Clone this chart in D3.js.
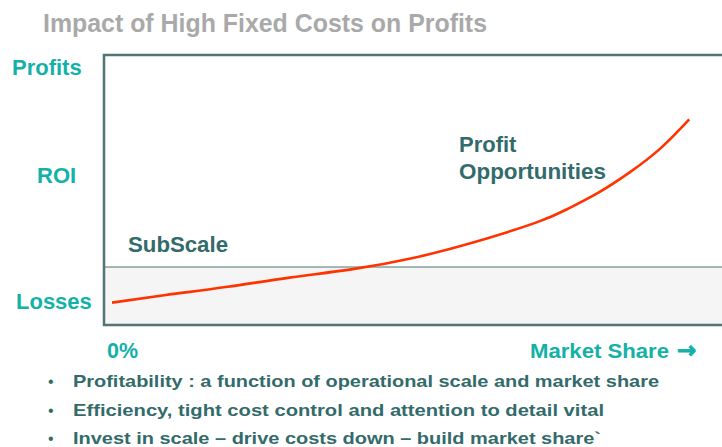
<!DOCTYPE html>
<html>
<head>
<meta charset="utf-8">
<script src="https://cdn.jsdelivr.net/npm/d3@7"></script>
<style>
  body { margin: 0; background: #fff; }
  svg { display: block; font-family: "Liberation Sans", Arial, sans-serif; }
</style>
</head>
<body>
<div id="chart"></div>
<script>
// data (market share %, profit index: 0 = breakeven)
var share = [1.3, 10, 20, 30, 40, 50, 60, 70, 75, 80, 85, 90, 94.7];
var profit = [-17.8, -14, -9.9, -5.3, -1.2, 4.5, 12.5, 22.3, 29, 37.2, 47.2, 59.2, 73.8];
var yLabels = ["Profits", "ROI", "Losses"];
var yLabelValues = [100, 46, -17];
var bullets = [
    "Profitability : a function of operational scale and market share",
    "Efficiency, tight cost control and attention to detail vital",
    "Invest in scale \u2013 drive costs down \u2013 build market share`"
];

var width = 722, height = 447;
var teal = "#13b1a8", dark = "#336b6b", frame = "#4f7575";

var x = d3.scaleLinear().domain([0, 100]).range([104, 722]);
var y = d3.scaleLinear().domain([-29, 106]).range([325, 55]);

var svg = d3.select("#chart").append("svg")
    .attr("width", width)
    .attr("height", height);

// title
svg.append("text")
    .attr("x", 43).attr("y", 32)
    .attr("fill", "#a9a9a9")
    .attr("font-weight", "bold")
    .attr("font-size", 25)
    .attr("textLength", 444).attr("lengthAdjust", "spacingAndGlyphs")
    .text("Impact of High Fixed Costs on Profits");

// loss zone
svg.append("rect")
    .attr("x", x(0)).attr("y", y(0))
    .attr("width", x(100) - x(0)).attr("height", y(-29) - y(0))
    .attr("fill", "#f5f5f5");

svg.append("line")
    .attr("x1", x(0)).attr("x2", x(100))
    .attr("y1", y(0)).attr("y2", y(0))
    .attr("stroke", frame).attr("stroke-width", 1.2);

// frame (open on the right)
svg.append("path")
    .attr("d", "M" + x(100) + "," + y(106) + "H" + x(0) + "V" + y(-29) + "H" + x(100))
    .attr("fill", "none")
    .attr("stroke", frame)
    .attr("stroke-width", 2.5);

// curve
var line = d3.line()
    .x(function(d, i) { return x(share[i]); })
    .y(function(d) { return y(d); })
    .curve(d3.curveNatural);

svg.append("path")
    .datum(profit)
    .attr("d", line)
    .attr("fill", "none")
    .attr("stroke", "#ff3300")
    .attr("stroke-width", 2.6);

// y labels
var yLabelX = [12, 37, 16];
svg.selectAll(".ylab")
    .data(yLabels)
    .enter().append("text")
    .attr("class", "ylab")
    .attr("x", function(d, i) { return yLabelX[i]; })
    .attr("y", function(d, i) { return y(yLabelValues[i]) + 8; })
    .attr("fill", teal)
    .attr("font-weight", "bold")
    .attr("font-size", 22)
    .text(function(d) { return d; });

// x labels
svg.append("text")
    .attr("x", 107).attr("y", 358)
    .attr("fill", teal).attr("font-weight", "bold").attr("font-size", 22)
    .attr("textLength", 31).attr("lengthAdjust", "spacingAndGlyphs")
    .text("0%");

var ms = svg.append("text")
    .attr("x", 530).attr("y", 358)
    .attr("fill", teal).attr("font-weight", "bold").attr("font-size", 21);
ms.append("tspan")
    .attr("textLength", 139).attr("lengthAdjust", "spacingAndGlyphs")
    .text("Market Share");
ms.append("tspan")
    .attr("x", 677)
    .attr("font-family", "DejaVu Sans")
    .attr("font-size", 23)
    .attr("stroke", teal)
    .attr("stroke-width", 0.9)
    .text("\u2192");

// zone labels
svg.append("text")
    .attr("x", 128).attr("y", 252)
    .attr("fill", dark).attr("font-weight", "bold").attr("font-size", 22)
    .attr("textLength", 100).attr("lengthAdjust", "spacingAndGlyphs")
    .text("SubScale");

svg.append("text")
    .attr("x", 459).attr("y", 152)
    .attr("fill", dark).attr("font-weight", "bold").attr("font-size", 22)
    .text("Profit");

svg.append("text")
    .attr("x", 459).attr("y", 179)
    .attr("fill", dark).attr("font-weight", "bold").attr("font-size", 22)
    .attr("textLength", 147).attr("lengthAdjust", "spacingAndGlyphs")
    .text("Opportunities");

// bullets
var b = svg.selectAll(".bullet")
    .data(bullets)
    .enter().append("g")
    .attr("class", "bullet")
    .attr("transform", function(d, i) { return "translate(0," + (387 + i * 28.5) + ")"; });

b.append("text")
    .attr("x", 48)
    .attr("fill", dark)
    .attr("font-size", 16)
    .text("\u2022");

var bulletWidths = [586, 531, 528];
b.append("text")
    .attr("x", 73)
    .attr("fill", dark)
    .attr("font-weight", "bold")
    .attr("font-size", 17)
    .attr("textLength", function(d, i) { return bulletWidths[i]; })
    .attr("lengthAdjust", "spacingAndGlyphs")
    .text(function(d) { return d; });
</script>
</body>
</html>
